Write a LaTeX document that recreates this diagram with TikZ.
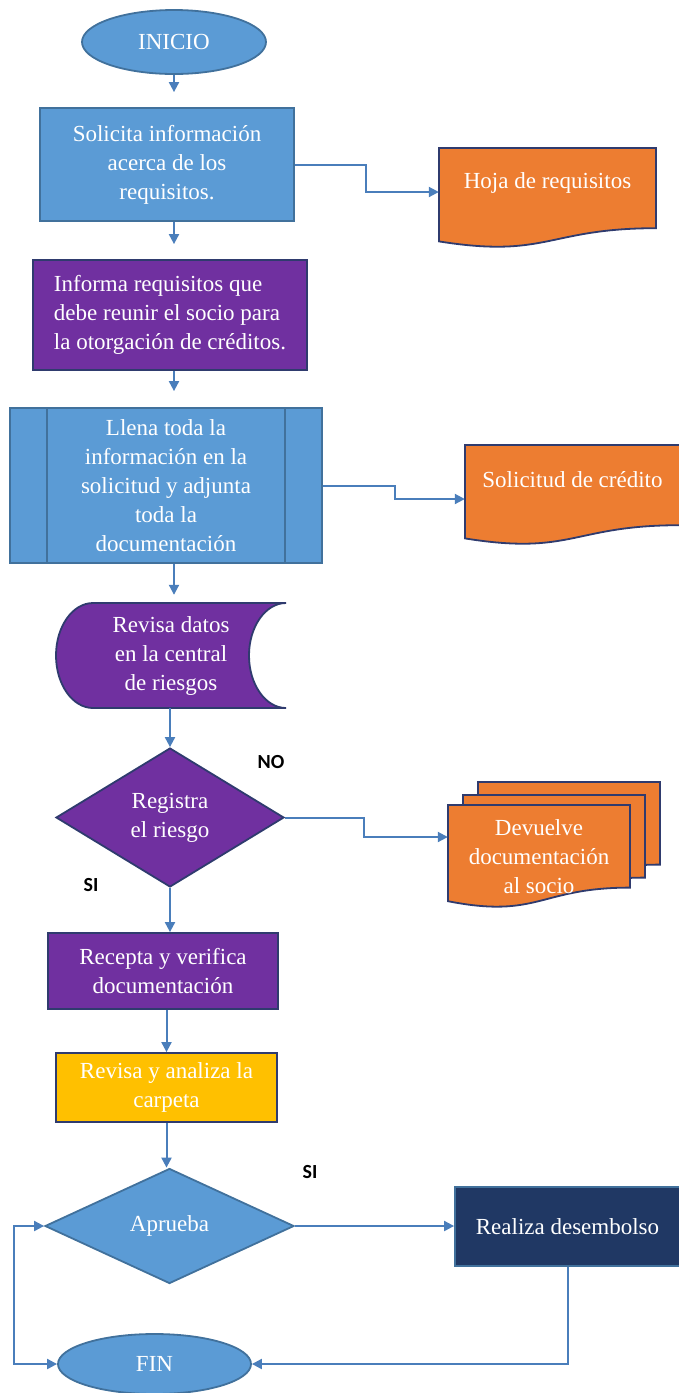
\documentclass[tikz,border=0pt]{standalone}
\usepackage{fontspec}
\setmainfont{Liberation Serif}
\newfontfamily\lblfont{Carlito}
\usepackage{tikz}
\usetikzlibrary{shapes.geometric,arrows.meta,positioning}

\definecolor{azul}{HTML}{5B9BD5}
\definecolor{morado}{HTML}{7030A0}
\definecolor{naranja}{HTML}{ED7D31}
\definecolor{amarillo}{HTML}{FFC000}
\definecolor{marino}{HTML}{203864}
\definecolor{borde}{HTML}{41719C}
\definecolor{bordeosc}{HTML}{2F3B6E}
\definecolor{flecha}{HTML}{4A7EBB}

\begin{document}
\begin{tikzpicture}[x=1pt, y=-1pt,
    txt/.style={text=white, font=\fontsize{23}{29}\selectfont, align=center, inner sep=0pt},
    box/.style={txt, rectangle, draw=borde, line width=1.8pt},
    ellip/.style={txt, ellipse, draw=borde, line width=1.8pt, fill=azul},
    rombo/.style={txt, diamond, draw=borde, line width=1.8pt},
    doc/.style={txt},
    lbl/.style={font=\lblfont\bfseries\fontsize{20}{24}\selectfont, text=black, inner sep=0pt},
    conn/.style={draw=flecha, line width=2pt, -{Triangle[length=10pt,width=10pt]}},
    docfill/.style={fill=naranja, draw=bordeosc, line width=1.8pt}]

  \useasboundingbox (0,0) rectangle (678,1393);

  \newcommand\docpath[4]{% x y w h
    \filldraw[docfill] (#1,#2) -- (#1+#3,#2) -- (#1+#3,#2+0.802*#4)
      .. controls (#1+0.5*#3,#2+0.802*#4) and (#1+0.5*#3,#2+1.107*#4) .. (#1,#2+0.934*#4) -- cycle;}

  %% main column
  \node[ellip, minimum width=184, minimum height=64] (inicio) at (174,42) {INICIO};
  \node[box, fill=azul, minimum width=254, minimum height=113] (solicita) at (167,164.5)
    {Solicita información\\acerca de los\\requisitos.};
  \node[box, fill=morado, draw=bordeosc, align=left, minimum width=274, minimum height=110] (informa) at (170,315)
    {Informa requisitos que\\debe reunir el socio para\\la otorgación de créditos.};
  \node[box, fill=azul, minimum width=312, minimum height=155] (llena) at (166,485.5)
    {Llena toda la\\información en la\\solicitud y adjunta\\toda la\\documentación};
  \draw[borde, line width=1.8pt] ([xshift=38pt]llena.north west) -- ([xshift=38pt]llena.south west);
  \draw[borde, line width=1.8pt] ([xshift=-38pt]llena.north east) -- ([xshift=-38pt]llena.south east);

  \filldraw[fill=morado, draw=bordeosc, line width=1.8pt] (93,603) -- (286,603)
    .. controls (265.6,603) and (249,626.5) .. (249,655.5)
    .. controls (249,684.5) and (265.6,708) .. (286,708) -- (93,708)
    .. controls (72.6,708) and (56,684.5) .. (56,655.5)
    .. controls (56,626.5) and (72.6,603) .. (93,603) -- cycle;
  \node[txt, minimum width=230, minimum height=105] (revisa) at (171,655.5)
    {Revisa datos\\en la central\\de riesgos};

  \node[rombo, fill=morado, draw=bordeosc, minimum width=228, minimum height=139] (registra) at (170,817.5)
    {Registra\\el riesgo};
  \node[box, fill=morado, draw=bordeosc, minimum width=230, minimum height=76] (recepta) at (163,971)
    {Recepta y verifica\\documentación};
  \node[box, fill=amarillo, draw=bordeosc, minimum width=221, minimum height=69] (analiza) at (166.5,1087.5)
    {Revisa y analiza la\\carpeta};
  \node[rombo, fill=azul, minimum width=249, minimum height=115] (aprueba) at (169.5,1226) {Aprueba};
  \node[box, fill=marino, draw=borde, minimum width=225, minimum height=79] (realiza) at (567.5,1226.5)
    {Realiza desembolso};
  \node[ellip, minimum width=193, minimum height=60] (fin) at (154.5,1364) {FIN};

  %% documents
  \docpath{439}{148}{217}{100}
  \node[doc, minimum width=217] (hoja) at (547.5,183) {Hoja de requisitos};
  \docpath{465}{445}{215}{100}
  \node[doc, minimum width=215] (solcred) at (572.5,480) {Solicitud de crédito};
  \docpath{478}{782}{182}{103}
  \docpath{463}{795}{182}{103}
  \docpath{448}{805}{182}{103}
  \node[doc, minimum width=182] (devuelve) at (539,857) {Devuelve\\documentación\\al socio};

  %% labels
  \node[lbl] (no) at (271,762) {NO};
  \node[lbl] (si1) at (91,885) {SI};
  \node[lbl] (si2) at (310,1172) {SI};

  %% connectors
  \draw[conn, shorten >=15pt] (inicio.south) -- (inicio.south |- solicita.north);
  \draw[conn, shorten >=15pt] (inicio.south |- solicita.south) -- (inicio.south |- informa.north);
  \draw[conn, shorten >=16pt] (inicio.south |- informa.south) -- (inicio.south |- llena.north);
  \draw[conn, shorten >=8pt] (inicio.south |- llena.south) -- (inicio.south |- revisa.north);
  \draw[conn] (registra.north |- revisa.south) -- (registra.north);
  \draw[conn] (registra.south) -- (registra.south |- recepta.north);
  \draw[conn] (analiza.north |- recepta.south) -- (analiza.north);
  \draw[conn] (analiza.south) -- (analiza.south |- aprueba.north);

  \draw[conn] (solicita.east) -- ++(71,0) |- ([yshift=-9pt]hoja.west); %% solicita->hoja
  \draw[conn] (llena.east) -- ++(72,0) |- ([yshift=-19pt]solcred.west); %% llena->solcred
  \draw[conn] (registra.east) -- ++(79,0) |- ([yshift=20pt]devuelve.west); %% NO
  \draw[conn] (aprueba.east) -- (aprueba.east -| realiza.west); %% SI
  \draw[conn] (realiza.south) |- (fin.east);
  \draw[conn, {Triangle[length=10pt,width=10pt]}-{Triangle[length=10pt,width=10pt]}]
    (fin.west) -- ++(-43,0) |- (aprueba.west);
\end{tikzpicture}
\end{document}
